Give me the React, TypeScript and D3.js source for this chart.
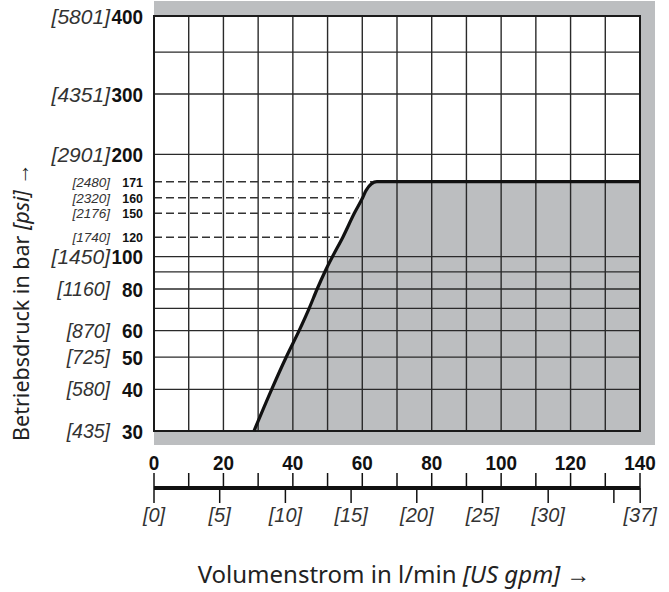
import React from "react";
import * as d3 from "d3";

// ---- data ----
const xGrid = [0, 10, 20, 30, 40, 50, 60, 70, 80, 90, 100, 110, 120, 130, 140];
const xLabels = [0, 20, 40, 60, 80, 100, 120, 140];
const gpmTicks = [0, 5, 10, 15, 20, 25, 30, 35, 37];
const gpmLabels = ["[0]", "[5]", "[10]", "[15]", "[20]", "[25]", "[30]", "", "[37]"];
const LPM_PER_GPM = 3.785;

const yGrid = [30, 40, 50, 60, 70, 80, 90, 100, 200, 300, 350, 400];
const yMajor = [400, 300, 200, 100];
const yMajorPsi = ["[5801]", "[4351]", "[2901]", "[1450]"];
const yMid = [80, 60, 50, 40, 30];
const yMidPsi = ["[1160]", "[870]", "[725]", "[580]", "[435]"];
const ySmall = [171, 160, 150, 120];
const ySmallPsi = ["[2480]", "[2320]", "[2176]", "[1740]"];

// breakpoints of the printed (non-uniform) pressure axis
const yBreaks = [30, 100, 150, 171, 200, 300, 400];
const yBreakFrac = [1, 0.58, 0.4754, 0.3993, 0.3333, 0.188, 0];

const curveFlow = [28.8, 33.9, 38.1, 41.8, 44.7, 47.0, 49.2, 51.4, 54.4, 57.7, 60.1, 61.1, 64.2, 140];
const curvePressure = [30, 40, 50, 60, 70, 80, 90, 100, 120, 150, 160, 165, 171, 171];

// ---- layout ----
const W = 669;
const H = 592;
const L = 154;
const R = 640;
const T = 16;
const B = 431;
const FRAME = 15;
const GRAY = "#bcbec0";
const INK = "#2a2a2a";
const NUM_FONT = "'Liberation Sans', Arial, sans-serif";
const TITLE_FONT = "'Noto Sans', 'Open Sans', sans-serif";

const x = d3.scaleLinear().domain([0, 140]).range([L, R]);
const y = d3
  .scaleLog()
  .domain(yBreaks)
  .range(yBreakFrac.map((f) => T + f * (B - T)));

const pts: [number, number][] = curveFlow.map((f, i) => [f, curvePressure[i]]);

function flowAt(p: number): number {
  for (let i = 0; i < pts.length - 1; i++) {
    const [f0, p0] = pts[i];
    const [f1, p1] = pts[i + 1];
    if (p >= p0 && p <= p1 && p1 > p0) {
      const t = (Math.log(p) - Math.log(p0)) / (Math.log(p1) - Math.log(p0));
      return f0 + t * (f1 - f0);
    }
  }
  return pts[pts.length - 1][0];
}

export default function App() {
  const line = d3
    .line<[number, number]>()
    .x((d) => x(d[0]))
    .y((d) => y(d[1]))
    .curve(d3.curveMonotoneX);
  const area = d3
    .area<[number, number]>()
    .x((d) => x(d[0]))
    .y0(y(30))
    .y1((d) => y(d[1]))
    .curve(d3.curveMonotoneX);

  const axisY = 488;

  return (
    <svg
      width={W}
      height={H}
      viewBox={`0 0 ${W} ${H}`}
      style={{ position: "absolute", left: 0, top: 0, background: "#fff" }}
    >
      {/* gray frame */}
      <rect x={L} y={T - FRAME} width={R - L + FRAME} height={B - T + 2 * FRAME - 1} fill={GRAY} />
      <rect x={L} y={T} width={R - L} height={B - T} fill="#fff" />
      {/* operating area */}
      <path d={area(pts) || ""} fill={GRAY} />
      {/* grid */}
      {xGrid.map((v) => (
        <line key={"vx" + v} x1={x(v)} x2={x(v)} y1={T} y2={B} stroke={INK} strokeWidth={1.4} />
      ))}
      {yGrid.map((v) => (
        <line key={"hy" + v} x1={L} x2={R} y1={y(v)} y2={y(v)} stroke={INK} strokeWidth={1.3} />
      ))}
      {ySmall.map((v) => (
        <line
          key={"dy" + v}
          x1={L}
          x2={x(flowAt(v)) - 4}
          y1={y(v)}
          y2={y(v)}
          stroke="#333"
          strokeWidth={1.5}
          strokeDasharray="8,4"
        />
      ))}
      <rect x={L} y={T} width={R - L} height={B - T} fill="none" stroke="#1a1a1a" strokeWidth={2} />
      <path d={line(pts) || ""} fill="none" stroke="#111" strokeWidth={3.2} strokeLinejoin="round" />

      {/* y labels */}
      {yMajor.map((v, i) => (
        <g key={"ym" + v}>
          <text
            x={110}
            y={y(v)}
            dy="0.36em"
            textAnchor="end"
            fontFamily={NUM_FONT}
            fontStyle="italic"
            fontSize={21}
            fill="#333"
          >
            {yMajorPsi[i]}
          </text>
          <text
            transform={`translate(143,${y(v)}) scale(0.9,1)`}
            dy="0.36em"
            textAnchor="end"
            fontFamily={NUM_FONT}
            fontWeight="bold"
            fontSize={21}
            fill="#111"
          >
            {v}
          </text>
        </g>
      ))}
      {yMid.map((v, i) => (
        <g key={"yd" + v}>
          <text
            x={110}
            y={y(v)}
            dy="0.36em"
            textAnchor="end"
            fontFamily={NUM_FONT}
            fontStyle="italic"
            fontSize={19.5}
            fill="#333"
          >
            {yMidPsi[i]}
          </text>
          <text
            transform={`translate(143,${y(v)}) scale(0.9,1)`}
            dy="0.36em"
            textAnchor="end"
            fontFamily={NUM_FONT}
            fontWeight="bold"
            fontSize={21}
            fill="#111"
          >
            {v}
          </text>
        </g>
      ))}
      {ySmall.map((v, i) => (
        <g key={"ys" + v}>
          <text
            x={110}
            y={y(v)}
            dy="0.36em"
            textAnchor="end"
            fontFamily={NUM_FONT}
            fontStyle="italic"
            fontSize={13.5}
            fill="#333"
          >
            {ySmallPsi[i]}
          </text>
          <text
            transform={`translate(143,${y(v)}) scale(0.92,1)`}
            dy="0.36em"
            textAnchor="end"
            fontFamily={NUM_FONT}
            fontWeight="bold"
            fontSize={13.5}
            fill="#111"
          >
            {v}
          </text>
        </g>
      ))}

      {/* x axis */}
      {xLabels.map((v) => (
        <text
          key={"xl" + v}
          transform={`translate(${x(v)},470) scale(0.9,1)`}
          textAnchor="middle"
          fontFamily={NUM_FONT}
          fontWeight="bold"
          fontSize={21}
          fill="#111"
        >
          {v}
        </text>
      ))}
      {xGrid.map((v) => (
        <line key={"xt" + v} x1={x(v)} x2={x(v)} y1={473} y2={axisY} stroke="#111" strokeWidth={1.5} />
      ))}
      {gpmTicks.map((g, i) => (
        <g key={"g" + g}>
          <line
            x1={x(g * LPM_PER_GPM)}
            x2={x(g * LPM_PER_GPM)}
            y1={axisY}
            y2={503}
            stroke="#111"
            strokeWidth={1.5}
          />
          {gpmLabels[i] && (
            <text
              x={x(g * LPM_PER_GPM)}
              y={522}
              textAnchor="middle"
              fontFamily={NUM_FONT}
              fontStyle="italic"
              fontSize={20}
              fill="#333"
            >
              {gpmLabels[i]}
            </text>
          )}
        </g>
      ))}
      <line x1={L} x2={R} y1={axisY} y2={axisY} stroke="#111" strokeWidth={4} />

      {/* titles */}
      <text
        x={394}
        y={583}
        textAnchor="middle"
        fontFamily={TITLE_FONT}
        fontSize={24}
        fill="#222"
      >
        Volumenstrom in l/min <tspan fontStyle="italic">[US gpm]</tspan> →
      </text>
      <text
        transform="translate(29,302) rotate(-90)"
        textAnchor="middle"
        fontFamily={TITLE_FONT}
        fontSize={21.5}
        fill="#222"
      >
        Betriebsdruck in bar <tspan fontStyle="italic">[psi]</tspan> →
      </text>
    </svg>
  );
}
